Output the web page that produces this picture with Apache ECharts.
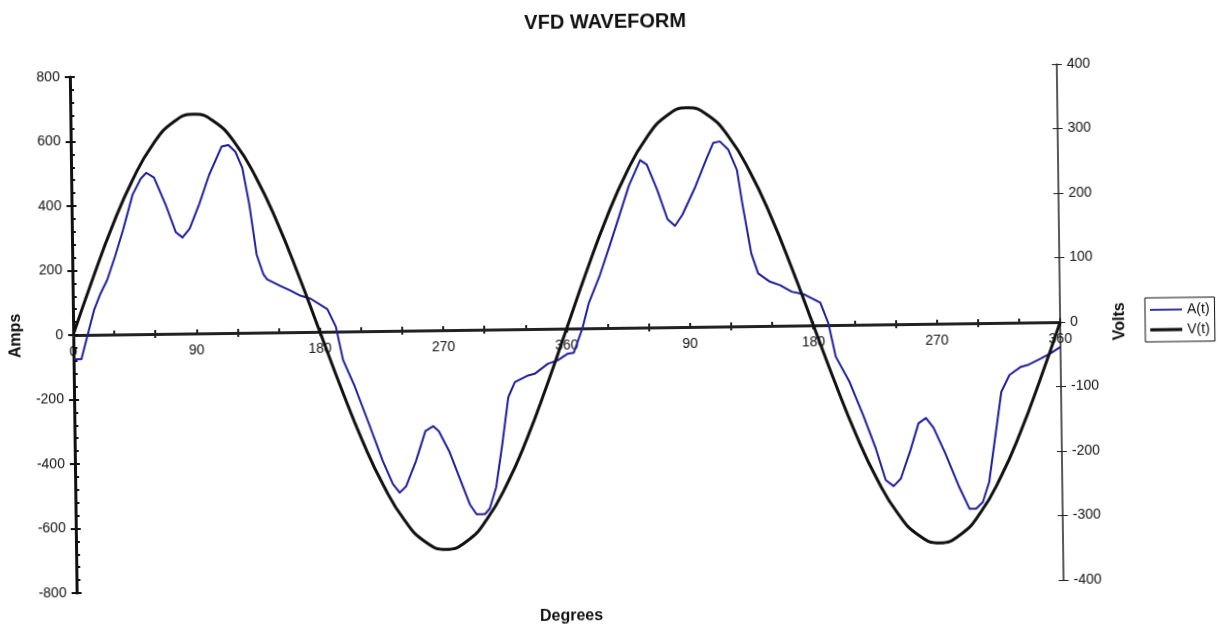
<!DOCTYPE html>
<html>
<head>
<meta charset="utf-8">
<script src="https://cdn.jsdelivr.net/npm/echarts@6/dist/echarts.min.js"></script>
<style>
html,body{margin:0;padding:0;background:#fff;overflow:hidden}
#c{width:1218px;height:626px;background:#fff;transform:rotate(-0.754deg);transform-origin:609px 313px}
</style>
</head>
<body>
<div id="c"></div>
<script>
const chartTitle = 'VFD WAVEFORM';
const xName = 'Degrees';
const leftName = 'Amps';
const rightName = 'Volts';
const seriesNames = ['A(t)', 'V(t)'];
const xTickLabels = ['0', '90', '180', '270', '360', '90', '180', '270', '360'];

const degA = [0, 5.8, 15.5, 20.4, 25.3, 31.3, 37.4, 44.7, 50.8, 54.9, 60.5, 69, 75.8, 80.7, 86, 93.3, 100.6, 110, 115, 120,
  125, 129.7, 134.6, 139.4, 142, 151.6, 158.9, 166, 173.5, 185.6, 191.7, 196.6, 205, 214.8, 224.5, 231.8, 236.7, 241.5, 248.8, 256,
  261.7, 265.8, 273.1, 280.4, 287.7, 292.5, 298.6, 302.2, 307.1, 312, 316.8, 321.7, 331.4, 336.2, 346, 353.2, 360.5, 365, 371.5, 376.3,
  384.8, 392, 399.4, 406.7, 415.2, 420, 427.4, 434.6, 440, 445.5, 455.3, 463.8, 468.7, 473.5, 479.6, 485.7, 489.3, 495.4, 500.2, 508.7,
  516, 524.5, 533, 545.2, 551, 556, 565.8, 575.5, 584, 591.3, 597, 602.3, 609.6, 615.7, 621.2, 626.6, 635, 644.8, 652.1, 657,
  661.9, 666.7, 676.4, 682.5, 691, 695.9, 705.7, 713, 720];
const ampsA = [-75, -75, 77, 128, 169, 242, 324, 433, 482, 500, 485, 397, 315, 298, 325, 402, 490, 578, 583, 562,
  511, 398, 242, 180, 165, 144, 129, 113, 103, 70, 15, -88, -172, -286, -402, -475, -502, -482, -405, -312,
  -297, -313, -375, -458, -541, -572, -572, -555, -489, -355, -210, -164, -144, -139, -108, -98, -78, -75, 0, 77,
  165, 253, 347, 440, 519, 505, 426, 335, 314, 348, 435, 523, 570, 574, 548, 485, 381, 225, 163, 137,
  126, 105, 97, 70, 5, -98, -177, -281, -380, -483, -502, -479, -391, -308, -292, -322, -403, -507, -575, -575,
  -555, -493, -214, -162, -137, -132, -112, -96, -77];

const degV = [0, 15, 30, 45, 60, 75, 90, 105, 120, 135, 150, 165, 180, 195, 210, 225, 240, 255, 270, 285, 300, 315, 330, 345,
  360, 375, 390, 405, 420, 435, 450, 465, 480, 495, 510, 525, 540, 555, 570, 585, 600, 615, 630, 645, 660, 675, 690, 705, 720];
const voltsV = [0, 88, 170, 240, 294, 328, 340, 328, 294, 240, 170, 88, 0, -88, -170, -240, -294, -328, -340, -328, -294, -240, -170, -88,
  0, 88, 170, 240, 294, 328, 340, 328, 294, 240, 170, 88, 0, -88, -170, -240, -294, -328, -340, -328, -294, -240, -170, -88, 0];

const FONT = 'Liberation Sans, Arial, Helvetica, sans-serif';
const COLOR_A = '#1f1f9e';
const COLOR_V = '#111111';
const dataA = degA.map((d, i) => [d, ampsA[i]]);
const dataV = degV.map((d, i) => [d, voltsV[i]]);

const GRID = { left: 72, right: 158, top: 70, bottom: 40 };
const gridH = 626 - GRID.top - GRID.bottom;

const chart = echarts.init(document.getElementById('c'), null, { renderer: 'canvas' });

const baseX = {
  type: 'value', min: 0, max: 720, position: 'bottom',
  splitLine: { show: false },
  axisLine: { onZero: true, onZeroAxisIndex: 0, show: false },
  axisLabel: { show: false },
  axisTick: { show: false }
};

chart.setOption({
  animation: false,
  backgroundColor: '#fff',
  title: [
    { text: chartTitle, left: 'center', top: 7,
      textStyle: { fontFamily: FONT, fontSize: 20, fontWeight: 'bold', color: '#111' } },
    { text: xName, left: 531, top: 603,
      textStyle: { fontFamily: FONT, fontSize: 16, fontWeight: 'bold', color: '#111' } }
  ],
  legend: {
    orient: 'vertical', left: 1145, top: 305,
    data: [
      { name: seriesNames[0], icon: 'path://M0,0h32v1.8h-32z' },
      { name: seriesNames[1], icon: 'path://M0,0h32v3.2h-32z' }
    ],
    itemWidth: 32, itemHeight: 12, itemGap: 6,
    padding: [5, 5, 5, 5],
    borderColor: '#111', borderWidth: 1,
    textStyle: { fontFamily: FONT, fontSize: 14, color: '#111' }
  },
  grid: { left: GRID.left, right: GRID.right, top: GRID.top, bottom: GRID.bottom, containLabel: false },
  xAxis: [
    Object.assign({}, baseX, {
      interval: 90,
      axisLine: { show: true, onZero: true, onZeroAxisIndex: 0, lineStyle: { color: '#222', width: 3 } }
    }),
    Object.assign({}, baseX, {
      interval: 30,
      axisTick: { show: true, inside: true, length: 4, lineStyle: { color: '#222', width: 2 } }
    }),
    Object.assign({}, baseX, {
      interval: 60,
      axisTick: { show: true, inside: false, length: 4, lineStyle: { color: '#222', width: 2 } }
    }),
    {
      type: 'value', min: 0, max: 720, interval: 90, position: 'bottom',
      offset: -gridH / 2,
      splitLine: { show: false },
      axisLine: { show: false, onZero: false },
      axisTick: { show: false },
      axisLabel: { show: true, margin: 10, fontFamily: FONT, fontSize: 14, color: '#111',
        formatter: function (v) { return xTickLabels[Math.round(v / 90)]; } }
    }
  ],
  yAxis: [
    {
      type: 'value', position: 'left', min: -800, max: 800, interval: 200,
      name: leftName, nameLocation: 'middle', nameRotate: 90, nameGap: 48,
      nameTextStyle: { fontFamily: FONT, fontSize: 16, fontWeight: 'bold', color: '#111' },
      axisLine: { show: true, onZero: false, lineStyle: { color: '#111', width: 3 } },
      axisTick: { show: true, inside: false, length: 5, lineStyle: { color: '#111', width: 2 } },
      axisLabel: { margin: 10, fontFamily: FONT, fontSize: 14, color: '#111' },
      splitLine: { show: false }
    },
    {
      type: 'value', position: 'right', min: -400, max: 400, interval: 100,
      name: rightName, nameLocation: 'middle', nameRotate: 90, nameGap: 52,
      nameTextStyle: { fontFamily: FONT, fontSize: 16, fontWeight: 'bold', color: '#111' },
      axisLine: { show: true, onZero: false, lineStyle: { color: '#222', width: 1.5 } },
      axisTick: { show: true, inside: false, length: 5, lineStyle: { color: '#222', width: 1 } },
      axisLabel: { margin: 10, fontFamily: FONT, fontSize: 14, color: '#111' },
      splitLine: { show: false }
    },
    {
      type: 'value', position: 'left', min: -800, max: 800, interval: 200,
      axisLine: { show: false, onZero: false },
      axisLabel: { show: false },
      axisTick: { show: true, inside: true, length: 5, lineStyle: { color: '#111', width: 2 } },
      minorTick: { show: true, splitNumber: 5, length: 4, lineStyle: { color: '#111', width: 2 } },
      splitLine: { show: false }
    },
    {
      type: 'value', position: 'right', min: -400, max: 400, interval: 100,
      axisLine: { show: false, onZero: false },
      axisLabel: { show: false },
      axisTick: { show: true, inside: true, length: 5, lineStyle: { color: '#222', width: 1 } },
      splitLine: { show: false }
    }
  ],
  series: [
    {
      name: seriesNames[0], type: 'line', xAxisIndex: 0, yAxisIndex: 0,
      data: dataA, symbol: 'none', showSymbol: false, smooth: false,
      lineStyle: { color: COLOR_A, width: 2, join: 'round' },
      itemStyle: { color: COLOR_A }
    },
    {
      name: seriesNames[1], type: 'line', xAxisIndex: 0, yAxisIndex: 1,
      data: dataV, symbol: 'none', showSymbol: false, smooth: true,
      lineStyle: { color: COLOR_V, width: 3 },
      itemStyle: { color: COLOR_V }
    }
  ]
});
</script>
</body>
</html>
